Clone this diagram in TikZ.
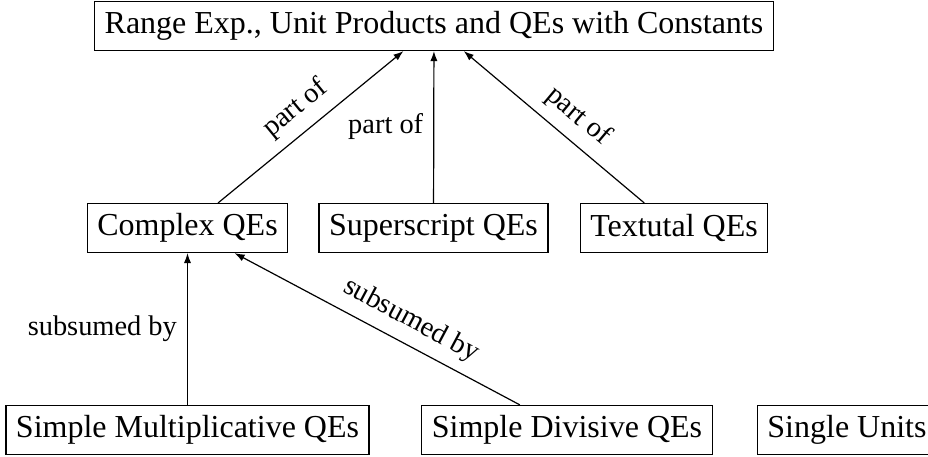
\documentclass[tikz,border=0pt]{standalone}
\usepackage{fontspec}
\setmainfont{Liberation Serif}
\usetikzlibrary{arrows.meta}
\begin{document}
\begin{tikzpicture}[x=0.5pt,y=-0.5pt,
  box/.style={draw, line width=0.6pt, inner xsep=5pt, inner ysep=0pt, minimum height=24.5pt, font=\fontsize{16}{19}\selectfont},
  rel/.style={draw, line width=0.6pt, -{Latex[length=5pt,width=3.6pt]}},
  lab/.style={font=\fontsize{14.2}{17}\selectfont, inner sep=5pt}]
\useasboundingbox (0,0) rectangle (928,456);
\node[box] (top) at (434,26) {Range Exp., Unit Products and QEs with Constants};
\node[box] (complex) at (187.5,228) {Complex QEs};
\node[box] (super) at (433.5,228) {Superscript QEs};
\node[box] (textual) at (674,228) {Textutal QEs};
\node[box] (smult) at (187.5,430) {Simple Multiplicative QEs};
\node[box] (sdiv) at (567,430) {Simple Divisive QEs};
\node[box] (single) at (847,430) {Single Units};
\draw[rel] (complex) -- node[lab, midway, sloped, above] {part of} (top);
\draw[rel] (super) -- node[lab, midway, left] {part of} (top);
\draw[rel] (textual) -- node[lab, pos=0.45, sloped, above] {part of} (top);
\draw[rel] (smult) -- node[lab, midway, left] {subsumed by} (complex);
\draw[rel] (sdiv) -- node[lab, pos=0.42, sloped, above] {subsumed by} (complex);
\end{tikzpicture}
\end{document}
